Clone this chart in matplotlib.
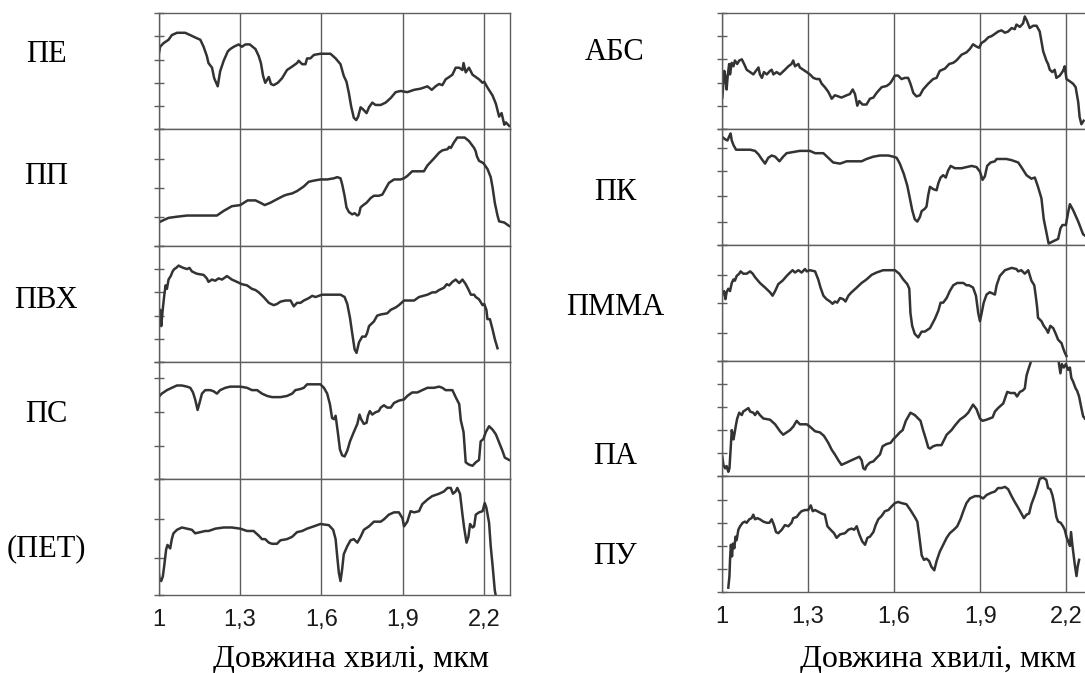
"""Reflectance spectra of plastics, 1.0-2.3 um, two stacked columns"""

import matplotlib
matplotlib.use('Agg')
import matplotlib.pyplot as plt

# wavelength ticks (um) and their labels
wl_ticks = [1.0, 1.3, 1.6, 1.9, 2.2]
wl_labels = ['1', '1,3', '1,6', '1,9', '2,2']

# --- left column ---
pe_x = [1.002,1.006,1.018,1.037,1.049,1.068,1.098,1.117,1.135,1.154, 1.166,1.178,1.184,1.197,1.205,1.218,1.227,1.240,1.255,1.264,
        1.277,1.295,1.307,1.320,1.336,1.357,1.369,1.377,1.385,1.393, 1.406,1.414,1.424,1.439,1.455,1.473,1.492,1.510,1.516,1.529,
        1.541,1.547,1.559,1.572,1.596,1.633,1.652,1.670,1.682,1.692, 1.701,1.709,1.719,1.728,1.735,1.744,1.754,1.766,1.775,1.787,
        1.799,1.818,1.836,1.855,1.873,1.891,1.916,1.941,1.965,1.990, 2.006,2.020,2.033,2.045,2.057,2.070,2.082,2.094,2.107,2.119,
        2.123,2.131,2.143,2.156,2.168,2.180,2.193,2.199,2.211,2.230, 2.242,2.254,2.263,2.273,2.279,2.291]
pe_y = [0.66,0.71,0.74,0.77,0.81,0.83,0.83,0.81,0.79,0.77, 0.71,0.63,0.57,0.53,0.44,0.37,0.50,0.59,0.67,0.69,
        0.71,0.73,0.71,0.73,0.73,0.69,0.63,0.57,0.46,0.40, 0.45,0.39,0.38,0.40,0.44,0.51,0.54,0.57,0.59,0.56,
        0.56,0.61,0.61,0.64,0.65,0.65,0.61,0.56,0.46,0.41, 0.31,0.20,0.10,0.08,0.11,0.19,0.17,0.14,0.19,0.23,
        0.21,0.21,0.23,0.27,0.32,0.33,0.32,0.34,0.35,0.37, 0.34,0.37,0.39,0.38,0.43,0.45,0.47,0.53,0.53,0.51,
        0.57,0.49,0.53,0.47,0.45,0.43,0.40,0.41,0.36,0.29, 0.22,0.11,0.14,0.04,0.06,0.03]

pp_x = [1.000,1.018,1.037,1.068,1.105,1.141,1.178,1.215,1.240,1.270, 1.301,1.328,1.357,1.375,1.391,1.412,1.436,1.461,1.473,1.492,
        1.510,1.535,1.553,1.572,1.596,1.621,1.646,1.658,1.670,1.676, 1.685,1.692,1.701,1.713,1.722,1.732,1.738,1.744,1.754,1.766,
        1.781,1.793,1.811,1.824,1.836,1.848,1.867,1.891,1.904,1.916, 1.934,1.977,1.990,2.002,2.014,2.033,2.045,2.064,2.070,2.076,
        2.088,2.100,2.113,2.127,2.143,2.162,2.168,2.172,2.180,2.196, 2.211,2.223,2.230,2.238,2.248,2.254,2.273,2.291]
pp_y = [0.20,0.22,0.24,0.25,0.26,0.26,0.26,0.26,0.30,0.34, 0.35,0.39,0.39,0.37,0.35,0.37,0.40,0.43,0.44,0.45,
        0.47,0.51,0.55,0.56,0.57,0.57,0.58,0.59,0.58,0.53, 0.43,0.33,0.29,0.27,0.28,0.26,0.27,0.33,0.35,0.37,
        0.41,0.43,0.43,0.44,0.49,0.54,0.57,0.57,0.58,0.60, 0.64,0.64,0.69,0.72,0.75,0.80,0.82,0.83,0.85,0.84,
        0.89,0.93,0.93,0.93,0.90,0.84,0.81,0.77,0.73,0.71, 0.66,0.59,0.50,0.37,0.26,0.21,0.20,0.17]

pvc_x = [1.002,1.006,1.010,1.015,1.021,1.026,1.031,1.037,1.045,1.052, 1.058,1.065,1.074,1.082,1.092,1.105,1.114,1.123,1.141,1.166,
         1.178,1.184,1.197,1.209,1.221,1.234,1.252,1.270,1.289,1.307, 1.326,1.344,1.357,1.369,1.387,1.406,1.424,1.436,1.449,1.467,
         1.486,1.498,1.510,1.523,1.535,1.553,1.566,1.578,1.590,1.602, 1.621,1.670,1.685,1.695,1.705,1.713,1.722,1.729,1.738,1.750,
         1.762,1.768,1.775,1.793,1.805,1.818,1.842,1.855,1.873,1.885, 1.904,1.941,1.959,1.990,2.008,2.020,2.033,2.051,2.061,2.070,
         2.082,2.094,2.107,2.119,2.131,2.140,2.150,2.162,2.168,2.180, 2.193,2.199,2.207,2.211,2.220,2.230,2.238,2.248]
pvc_y = [0.37,0.45,0.31,0.44,0.57,0.66,0.63,0.71,0.74,0.78, 0.80,0.81,0.83,0.82,0.81,0.80,0.81,0.78,0.76,0.75,
         0.72,0.69,0.71,0.70,0.72,0.71,0.74,0.71,0.69,0.67, 0.66,0.63,0.62,0.60,0.56,0.51,0.49,0.50,0.52,0.53,
         0.53,0.48,0.51,0.51,0.53,0.55,0.57,0.56,0.57,0.58, 0.58,0.58,0.56,0.50,0.38,0.25,0.11,0.08,0.17,0.22,
         0.22,0.25,0.31,0.35,0.40,0.41,0.42,0.45,0.47,0.49, 0.53,0.53,0.56,0.58,0.60,0.60,0.62,0.64,0.67,0.66,
         0.69,0.71,0.68,0.71,0.67,0.63,0.58,0.58,0.56,0.54, 0.49,0.50,0.45,0.37,0.37,0.28,0.20,0.12]

ps_x = [1.000,1.012,1.031,1.049,1.068,1.086,1.105,1.117,1.127,1.135, 1.144,1.151,1.160,1.172,1.191,1.203,1.215,1.227,1.246,1.264,
        1.301,1.326,1.344,1.363,1.381,1.400,1.418,1.449,1.473,1.492, 1.504,1.523,1.535,1.547,1.572,1.596,1.609,1.621,1.631,1.639,
        1.646,1.652,1.660,1.668,1.676,1.685,1.695,1.705,1.719,1.732, 1.740,1.746,1.756,1.766,1.771,1.778,1.787,1.799,1.811,1.818,
        1.830,1.842,1.855,1.867,1.885,1.904,1.916,1.934,1.953,1.971, 1.990,2.014,2.033,2.045,2.057,2.082,2.094,2.107,2.113,2.123,
        2.131,2.143,2.156,2.168,2.180,2.186,2.196,2.205,2.217,2.230, 2.242,2.254,2.266,2.275,2.291]
ps_y = [0.70,0.73,0.76,0.78,0.80,0.80,0.79,0.78,0.74,0.68, 0.59,0.65,0.73,0.76,0.76,0.75,0.73,0.76,0.78,0.79,
        0.79,0.78,0.76,0.76,0.73,0.71,0.70,0.70,0.71,0.73, 0.76,0.77,0.78,0.81,0.81,0.81,0.78,0.73,0.64,0.52,
        0.51,0.54,0.40,0.25,0.20,0.19,0.24,0.32,0.40,0.47, 0.55,0.51,0.47,0.48,0.54,0.58,0.55,0.57,0.58,0.61,
        0.63,0.61,0.61,0.65,0.67,0.68,0.71,0.74,0.74,0.76, 0.78,0.78,0.79,0.78,0.76,0.76,0.70,0.64,0.50,0.40,
        0.14,0.12,0.11,0.14,0.16,0.32,0.34,0.40,0.45,0.42, 0.38,0.31,0.24,0.18,0.16]

pet_x = [1.000,1.004,1.010,1.016,1.021,1.028,1.033,1.043,1.049,1.055, 1.068,1.086,1.105,1.123,1.135,1.154,1.172,1.184,1.197,1.209,
         1.240,1.270,1.301,1.326,1.350,1.369,1.381,1.393,1.406,1.418, 1.436,1.449,1.473,1.492,1.510,1.529,1.547,1.572,1.596,1.627,
         1.643,1.652,1.658,1.664,1.670,1.676,1.682,1.695,1.707,1.719, 1.732,1.744,1.756,1.775,1.793,1.818,1.830,1.848,1.867,1.885,
         1.898,1.904,1.916,1.928,1.941,1.959,1.971,1.990,2.008,2.033, 2.051,2.064,2.076,2.084,2.094,2.100,2.110,2.119,2.125,2.134,
         2.141,2.147,2.156,2.162,2.168,2.180,2.193,2.201,2.207,2.217, 2.223,2.230,2.238,2.242]
pet_y = [0.22,0.13,0.12,0.16,0.25,0.39,0.43,0.40,0.48,0.53, 0.56,0.58,0.57,0.56,0.53,0.54,0.55,0.55,0.56,0.57,
         0.58,0.58,0.57,0.55,0.55,0.51,0.48,0.48,0.45,0.44, 0.44,0.47,0.48,0.50,0.54,0.55,0.57,0.59,0.61,0.60,
         0.56,0.48,0.33,0.19,0.12,0.22,0.35,0.42,0.47,0.48, 0.45,0.50,0.56,0.59,0.63,0.63,0.65,0.69,0.71,0.71,
         0.66,0.59,0.63,0.72,0.71,0.72,0.78,0.82,0.85,0.87, 0.89,0.92,0.92,0.87,0.89,0.92,0.87,0.69,0.58,0.45,
         0.50,0.61,0.58,0.59,0.69,0.71,0.72,0.79,0.75,0.62, 0.42,0.25,0.04,-0.01]

# --- right column ---
abs_x = [1.002,1.006,1.009,1.014,1.017,1.021,1.026,1.029,1.035,1.041, 1.046,1.054,1.061,1.070,1.078,1.087,1.099,1.110,1.119,1.128,
         1.133,1.140,1.147,1.157,1.168,1.174,1.180,1.191,1.203,1.220, 1.232,1.243,1.249,1.255,1.267,1.272,1.284,1.296,1.307,1.319,
         1.330,1.340,1.348,1.359,1.371,1.383,1.394,1.406,1.417,1.435, 1.446,1.456,1.464,1.472,1.479,1.490,1.504,1.516,1.528,1.539,
         1.557,1.574,1.585,1.591,1.603,1.614,1.626,1.638,1.649,1.657, 1.667,1.678,1.690,1.701,1.719,1.736,1.748,1.759,1.777,1.792,
         1.806,1.817,1.835,1.852,1.864,1.875,1.887,1.896,1.904,1.916, 1.928,1.939,1.951,1.962,1.974,1.986,1.997,2.009,2.020,2.026,
         2.038,2.049,2.055,2.063,2.072,2.084,2.096,2.107,2.119,2.130, 2.136,2.142,2.151,2.159,2.165,2.177,2.188,2.194,2.200,2.212,
         2.223,2.232,2.241,2.246,2.252,2.260]
abs_y = [0.27,0.40,0.50,0.43,0.34,0.46,0.56,0.47,0.57,0.54, 0.59,0.56,0.59,0.60,0.56,0.51,0.49,0.47,0.50,0.53,
         0.47,0.44,0.49,0.47,0.50,0.51,0.47,0.49,0.47,0.51, 0.54,0.56,0.59,0.54,0.56,0.53,0.51,0.49,0.47,0.44,
         0.43,0.43,0.39,0.36,0.32,0.26,0.29,0.28,0.27,0.29, 0.30,0.34,0.30,0.20,0.24,0.21,0.21,0.26,0.27,0.31,
         0.36,0.37,0.39,0.41,0.46,0.46,0.43,0.44,0.44,0.39, 0.31,0.28,0.29,0.34,0.39,0.43,0.44,0.50,0.52,0.56,
         0.57,0.59,0.64,0.66,0.69,0.73,0.71,0.70,0.74,0.76, 0.79,0.80,0.82,0.84,0.85,0.83,0.84,0.87,0.86,0.90,
         0.88,0.91,0.97,0.93,0.87,0.89,0.89,0.84,0.67,0.59, 0.56,0.51,0.49,0.51,0.44,0.46,0.50,0.54,0.43,0.41,
         0.39,0.36,0.23,0.10,0.04,0.07]

pc_x = [1.002,1.012,1.020,1.027,1.031,1.035,1.041,1.050,1.075,1.099, 1.116,1.128,1.139,1.151,1.162,1.174,1.186,1.201,1.214,1.226,
        1.249,1.272,1.293,1.307,1.325,1.354,1.371,1.388,1.412,1.435, 1.470,1.487,1.504,1.528,1.551,1.580,1.597,1.609,1.620,1.634,
        1.646,1.655,1.663,1.672,1.681,1.690,1.696,1.707,1.713,1.719, 1.725,1.736,1.748,1.754,1.762,1.771,1.780,1.788,1.797,1.812,
        1.835,1.852,1.870,1.887,1.899,1.908,1.916,1.924,1.936,1.951, 1.957,1.991,2.009,2.032,2.043,2.061,2.078,2.090,2.101,2.113,
        2.121,2.130,2.138,2.154,2.171,2.179,2.186,2.198,2.206,2.212, 2.223,2.241,2.258,2.264]
pc_y = [0.93,0.91,0.90,0.94,0.96,0.90,0.86,0.82,0.82,0.82, 0.81,0.78,0.74,0.70,0.75,0.77,0.76,0.72,0.76,0.79,
        0.80,0.81,0.81,0.81,0.79,0.79,0.75,0.71,0.70,0.72, 0.72,0.72,0.74,0.76,0.77,0.77,0.76,0.75,0.70,0.61,
        0.51,0.40,0.30,0.22,0.20,0.24,0.29,0.31,0.33,0.43, 0.50,0.48,0.47,0.53,0.58,0.60,0.58,0.64,0.68,0.66,
        0.66,0.67,0.68,0.67,0.63,0.56,0.59,0.68,0.71,0.72, 0.74,0.74,0.73,0.71,0.67,0.60,0.57,0.58,0.50,0.40,
        0.22,0.11,0.01,0.03,0.05,0.14,0.17,0.17,0.28,0.35, 0.30,0.20,0.09,0.08]

pmma_x = [1.002,1.008,1.013,1.017,1.023,1.029,1.035,1.041,1.046,1.052, 1.061,1.066,1.075,1.087,1.099,1.108,1.116,1.133,1.151,1.168,
          1.177,1.186,1.197,1.212,1.226,1.238,1.247,1.255,1.267,1.278, 1.290,1.296,1.307,1.325,1.336,1.344,1.354,1.365,1.377,1.386,
          1.394,1.402,1.412,1.423,1.431,1.441,1.452,1.470,1.487,1.504, 1.522,1.539,1.562,1.585,1.603,1.618,1.632,1.646,1.653,1.657,
          1.663,1.672,1.684,1.696,1.707,1.725,1.742,1.754,1.762,1.771, 1.783,1.794,1.806,1.820,1.841,1.852,1.861,1.875,1.885,1.893,
          1.899,1.904,1.912,1.922,1.933,1.951,1.957,1.968,1.986,2.009, 2.026,2.032,2.043,2.055,2.067,2.078,2.088,2.093,2.098,2.101,
          2.113,2.121,2.130,2.136,2.144,2.154,2.163,2.171,2.183,2.188, 2.194,2.200]
pmma_y = [0.57,0.60,0.53,0.59,0.62,0.60,0.67,0.70,0.69,0.73, 0.75,0.77,0.75,0.75,0.77,0.75,0.72,0.67,0.63,0.59,
          0.56,0.60,0.66,0.69,0.73,0.76,0.78,0.76,0.78,0.76, 0.79,0.77,0.78,0.77,0.70,0.63,0.56,0.53,0.51,0.49,
          0.51,0.50,0.54,0.53,0.51,0.56,0.59,0.63,0.67,0.70, 0.74,0.76,0.78,0.78,0.78,0.75,0.70,0.66,0.62,0.41,
          0.30,0.23,0.20,0.25,0.25,0.28,0.36,0.43,0.50,0.50, 0.54,0.60,0.65,0.67,0.67,0.65,0.65,0.63,0.56,0.41,
          0.34,0.40,0.50,0.57,0.59,0.57,0.65,0.73,0.78,0.80, 0.79,0.77,0.78,0.75,0.78,0.69,0.65,0.56,0.46,0.37,
          0.34,0.30,0.27,0.24,0.30,0.28,0.23,0.18,0.15,0.11, 0.07,0.04]

pa_x = [1.002,1.006,1.012,1.017,1.023,1.027,1.031,1.035,1.041,1.044, 1.050,1.054,1.061,1.070,1.075,1.087,1.093,1.099,1.110,1.116,
        1.124,1.133,1.145,1.168,1.186,1.203,1.214,1.226,1.238,1.249, 1.261,1.272,1.296,1.307,1.325,1.342,1.356,1.371,1.383,1.394,
        1.406,1.417,1.435,1.452,1.470,1.479,1.487,1.493,1.499,1.504, 1.516,1.528,1.539,1.551,1.560,1.574,1.588,1.597,1.609,1.620,
        1.630,1.641,1.657,1.672,1.684,1.692,1.701,1.711,1.719,1.725, 1.736,1.748,1.765,1.783,1.800,1.812,1.829,1.846,1.858,1.875,
        1.887,1.899,1.908,1.922,1.943,1.951,1.962,1.980,1.994,2.005, 2.020,2.028,2.038,2.047,2.055,2.061,2.067,2.075,2.078,
        2.125,2.172,
        2.174,2.179,2.184,2.191,2.198,2.206,2.212,2.217,2.223,2.232, 2.237,2.244,2.252,2.258,2.264]
pa_y = [0.17,0.10,0.07,0.09,0.04,0.07,0.23,0.40,0.32,0.36, 0.45,0.50,0.55,0.53,0.56,0.58,0.59,0.56,0.55,0.53,
        0.56,0.53,0.50,0.49,0.45,0.39,0.36,0.38,0.40,0.43, 0.48,0.45,0.45,0.43,0.39,0.38,0.35,0.29,0.23,0.19,
        0.14,0.10,0.12,0.14,0.16,0.17,0.14,0.07,0.06,0.09, 0.12,0.13,0.16,0.19,0.26,0.28,0.29,0.32,0.35,0.38,
        0.40,0.48,0.55,0.53,0.50,0.48,0.40,0.32,0.25,0.24, 0.26,0.27,0.27,0.36,0.40,0.44,0.49,0.52,0.55,0.62,
        0.58,0.50,0.48,0.49,0.51,0.56,0.59,0.63,0.73,0.72, 0.72,0.69,0.73,0.74,0.76,0.87,0.92,0.98,1.01,
        1.25,1.05,
        0.97,0.89,0.97,0.94,0.97,0.92,0.94,0.85,0.82,0.76, 0.74,0.69,0.59,0.52,0.50]

pu_x = [1.023,1.027,1.029,1.032,1.036,1.039,1.044,1.048,1.052,1.058, 1.064,1.073,1.081,1.087,1.096,1.104,1.110,1.116,1.124,1.133,
        1.145,1.157,1.166,1.174,1.182,1.189,1.197,1.209,1.220,1.232, 1.243,1.249,1.261,1.270,1.278,1.290,1.301,1.310,1.317,1.325,
        1.333,1.348,1.359,1.368,1.379,1.391,1.400,1.412,1.429,1.441, 1.452,1.461,1.470,1.479,1.489,1.499,1.507,1.516,1.528,1.536,
        1.545,1.557,1.568,1.580,1.591,1.603,1.614,1.626,1.643,1.657, 1.672,1.681,1.688,1.696,1.704,1.713,1.722,1.730,1.740,1.748,
        1.759,1.771,1.783,1.794,1.808,1.820,1.831,1.841,1.852,1.864, 1.881,1.896,1.910,1.922,1.939,1.951,1.962,1.974,1.986,1.997,
        2.009,2.020,2.032,2.043,2.052,2.061,2.070,2.078,2.090,2.099, 2.107,2.119,2.130,2.136,2.144,2.151,2.157,2.165,2.171,2.180,
        2.188,2.194,2.200,2.206,2.212,2.216,2.221,2.229,2.235,2.239, 2.244]
pu_y = [0.04,0.14,0.28,0.41,0.31,0.42,0.38,0.48,0.45,0.54, 0.57,0.60,0.61,0.60,0.63,0.64,0.67,0.63,0.64,0.63,
        0.61,0.60,0.60,0.63,0.58,0.52,0.51,0.54,0.58,0.57, 0.60,0.64,0.65,0.68,0.70,0.71,0.71,0.75,0.70,0.71,
        0.70,0.68,0.67,0.57,0.54,0.51,0.47,0.50,0.51,0.54, 0.55,0.54,0.57,0.50,0.44,0.41,0.47,0.48,0.52,0.58,
        0.63,0.66,0.70,0.71,0.74,0.77,0.78,0.77,0.76,0.71, 0.65,0.61,0.48,0.32,0.28,0.29,0.27,0.22,0.19,0.27,
        0.35,0.41,0.47,0.51,0.54,0.57,0.63,0.70,0.77,0.81, 0.83,0.83,0.81,0.84,0.86,0.87,0.90,0.90,0.91,0.89,
        0.83,0.78,0.73,0.68,0.64,0.67,0.68,0.76,0.84,0.91, 0.98,0.99,0.97,0.90,0.89,0.84,0.77,0.65,0.61,0.60,
        0.57,0.54,0.48,0.44,0.40,0.52,0.40,0.24,0.14,0.22, 0.28]

left_names = ['ПЕ', 'ПП', 'ПВХ', 'ПС', '(ПЕТ)']
right_names = ['АБС', 'ПК', 'ПММА', 'ПА', 'ПУ']
left_curves = [(pe_x, pe_y), (pp_x, pp_y), (pvc_x, pvc_y), (ps_x, ps_y), (pet_x, pet_y)]
right_curves = [(abs_x, abs_y), (pc_x, pc_y), (pmma_x, pmma_y), (pa_x, pa_y), (pu_x, pu_y)]
# small marks on the left edge of each panel (fraction of panel height)
left_marks = [[0.2, 0.4, 0.6, 0.8], [0.25, 0.5, 0.75], [0.2, 0.4, 0.6, 0.8], [0.28, 0.57, 0.86], [0.32, 0.65]]
right_marks = [[0.2, 0.4, 0.6, 0.8], [0.2, 0.42, 0.635, 0.835], [0.24, 0.5, 0.74], [0.2, 0.4, 0.6, 0.8], [0.2, 0.4, 0.6, 0.8]]

W, H = 1085, 673
LINE = '#333333'
FRAME = '#5e5e5e'
SERIF = 'Liberation Serif'
SANS = 'Liberation Sans'

fig = plt.figure(figsize=(W / 100, H / 100), dpi=100)


def column(x0, x1, top, bottom, xmax, curves, marks):
    h = (bottom - top) / len(curves)
    axes = []
    for i, ((xs, ys), mk) in enumerate(zip(curves, marks)):
        y_top = top + i * h
        ax = fig.add_axes([x0 / W, 1 - (y_top + h) / H, (x1 - x0) / W, h / H])
        ax.plot(xs, ys, color=LINE, lw=1.8, solid_joinstyle='round')
        ax.set_xlim(1.0, xmax)
        ax.set_ylim(0, 1)
        ax.set_xticks(wl_ticks)
        ax.grid(axis='x', color=FRAME, lw=1.0)
        ax.set_yticks([0] + mk + [1])
        ax.set_yticklabels([])
        ax.tick_params(axis='y', direction='inout', length=7, width=1, color=FRAME)
        ax.tick_params(axis='x', length=0)
        for s in ax.spines.values():
            s.set_color(FRAME)
            s.set_linewidth(1.0)
        if i < len(curves) - 1:
            ax.set_xticklabels([])
        else:
            ax.set_xticklabels(wl_labels, fontsize=17, family=SANS, color='#1a1a1a')
            ax.tick_params(axis='x', pad=10)
        axes.append(ax)
    return axes


column(158.5, 510, 13, 595, 2.294, left_curves, left_marks)
column(721.7, 1090, 13, 592.3, 2.282, right_curves, right_marks)

for name, y in zip(left_names, [54, 177, 300, 415, 549]):
    fig.text(46 / W, 1 - y / H, name, family=SERIF, fontsize=22, ha='center', va='center')
for name, y in zip(right_names, [53, 192, 308, 457, 556]):
    fig.text(615 / W, 1 - y / H, name, family=SERIF, fontsize=22, ha='center', va='center')

fig.text(351 / W, 1 - 667 / H, 'Довжина хвилі, мкм', family=SERIF, fontsize=23, ha='center', va='baseline')
fig.text(938 / W, 1 - 667 / H, 'Довжина хвилі, мкм', family=SERIF, fontsize=23, ha='center', va='baseline')

fig.savefig('out.png', dpi=100)
